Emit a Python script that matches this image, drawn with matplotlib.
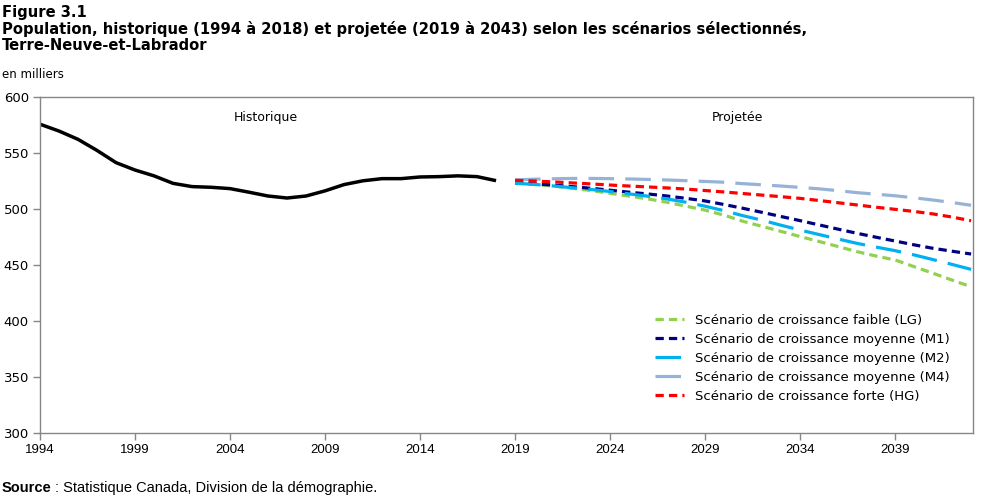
import matplotlib
matplotlib.use("Agg")
import matplotlib.pyplot as plt

hist_years = list(range(1994, 2019))
hist_vals = [575.7, 569.6, 562.2, 552.3, 541.4, 534.8, 529.6, 522.9, 520.0, 519.4,
             518.2, 515.0, 511.6, 509.8, 511.6, 516.2, 521.8, 525.2, 527.1, 527.1,
             528.6, 528.9, 529.6, 528.9, 525.3]

proj_years = list(range(2019, 2044))
lg = [523.0, 522.0, 520.5, 518.5, 516.5, 514.0, 511.5, 509.0, 506.0, 502.5,
      499.0, 494.5, 489.0, 484.5, 480.0, 475.4, 471.0, 466.5, 461.9, 458.0,
      454.5, 448.5, 442.6, 436.5, 430.6]
m1 = [523.5, 522.5, 521.4, 520.0, 518.5, 516.8, 515.0, 513.4, 511.6, 509.5,
      507.2, 504.0, 500.6, 497.0, 493.3, 489.6, 485.8, 482.0, 478.3, 474.8,
      471.4, 468.0, 464.9, 462.3, 459.8]
m2 = [523.0, 522.0, 520.6, 519.0, 517.4, 515.6, 513.5, 511.4, 509.0, 506.0,
      502.5, 498.5, 494.0, 490.0, 485.5, 481.2, 477.2, 473.2, 469.3, 466.0,
      462.8, 459.0, 454.8, 450.5, 446.1]
m4 = [526.0, 526.6, 527.0, 527.3, 527.3, 527.1, 526.8, 526.4, 525.9, 525.3,
      524.6, 523.9, 522.6, 521.6, 520.5, 519.3, 518.0, 516.4, 514.6, 513.2,
      511.8, 510.0, 508.0, 505.8, 503.3]
hg = [525.6, 525.0, 524.2, 523.3, 522.4, 521.4, 520.5, 519.7, 518.8, 517.8,
      516.5, 515.2, 513.8, 512.4, 511.0, 509.5, 507.6, 505.6, 503.6, 501.6,
      499.7, 497.8, 495.6, 492.8, 489.5]

labels = ["Scénario de croissance faible (LG)",
          "Scénario de croissance moyenne (M1)",
          "Scénario de croissance moyenne (M2)",
          "Scénario de croissance moyenne (M4)",
          "Scénario de croissance forte (HG)"]
xticks = list(range(1994, 2040, 5))
yticks = [300, 350, 400, 450, 500, 550, 600]

W, H = 999, 500
fig = plt.figure(figsize=(W / 100, H / 100), dpi=100)
ax = fig.add_axes([40 / W, 1 - 433 / H, (973 - 40) / W, (433 - 97) / H])

lw = 2.3
ax.plot(hist_years, hist_vals, color="black", lw=2.5, solid_capstyle="butt")
short = (0, (2.6, 1.6))
longd = (0, (8, 3.5))
ax.plot(proj_years, lg, color="#92D050", lw=lw, linestyle=short, label=labels[0])
ax.plot(proj_years, m1, color="#000080", lw=lw, linestyle=short, label=labels[1])
ax.plot(proj_years, m2, color="#00B0F0", lw=lw, linestyle=longd, label=labels[2])
ax.plot(proj_years, m4, color="#95B3D7", lw=lw, linestyle=longd, label=labels[3])
ax.plot(proj_years, hg, color="#FF0000", lw=lw, linestyle=short, label=labels[4])

ax.set_xlim(1994, 2043.1)
ax.set_ylim(300, 600)
ax.set_xticks(xticks)
ax.set_yticks(yticks)
ax.set_xticklabels([str(x) for x in xticks], fontsize=9.5, family="Liberation Sans")
ax.set_yticklabels([str(y) for y in yticks], fontsize=9.5, family="DejaVu Sans")
for s in ax.spines.values():
    s.set_color("#868686")
    s.set_linewidth(1.0)
ax.tick_params(axis="both", color="#868686", length=5, width=1, direction="out", pad=3)

ax.text(2005.9, 582, "Historique", fontsize=9, ha="center", va="center", family="DejaVu Sans")
ax.text(2030.7, 582, "Projetée", fontsize=9, ha="center", va="center", family="DejaVu Sans")

leg = ax.legend(loc="lower left", bbox_to_anchor=((650 - 40) / (973 - 40), (433 - 408) / 336),
                frameon=False, fontsize=9.5, handlelength=2.2, handletextpad=0.8,
                labelspacing=0.45, borderaxespad=0)

tfont = dict(fontsize=10.6, fontweight="bold", family="DejaVu Sans", va="center", ha="left")
fig.text(2 / W, 1 - 12 / H, "Figure 3.1", **tfont)
fig.text(2 / W, 1 - 29 / H,
         "Population, historique (1994 à 2018) et projetée (2019 à 2043) selon les scénarios sélectionnés,",
         **tfont)
fig.text(2 / W, 1 - 46 / H, "Terre-Neuve-et-Labrador", **tfont)
fig.text(2 / W, 1 - 75 / H, "en milliers", fontsize=8.5, family="DejaVu Sans", va="center", ha="left")
src = fig.text(2 / W, 1 - 488 / H, "Source", fontsize=10.5, fontweight="bold",
               family="Liberation Sans", va="center", ha="left")
fig.canvas.draw()
bb = src.get_window_extent()
fig.text((bb.x1 + 3) / W, 1 - 488 / H, ": Statistique Canada, Division de la démographie.",
         fontsize=10.5, family="Liberation Sans", va="center", ha="left")

fig.savefig("out.png", dpi=100)
